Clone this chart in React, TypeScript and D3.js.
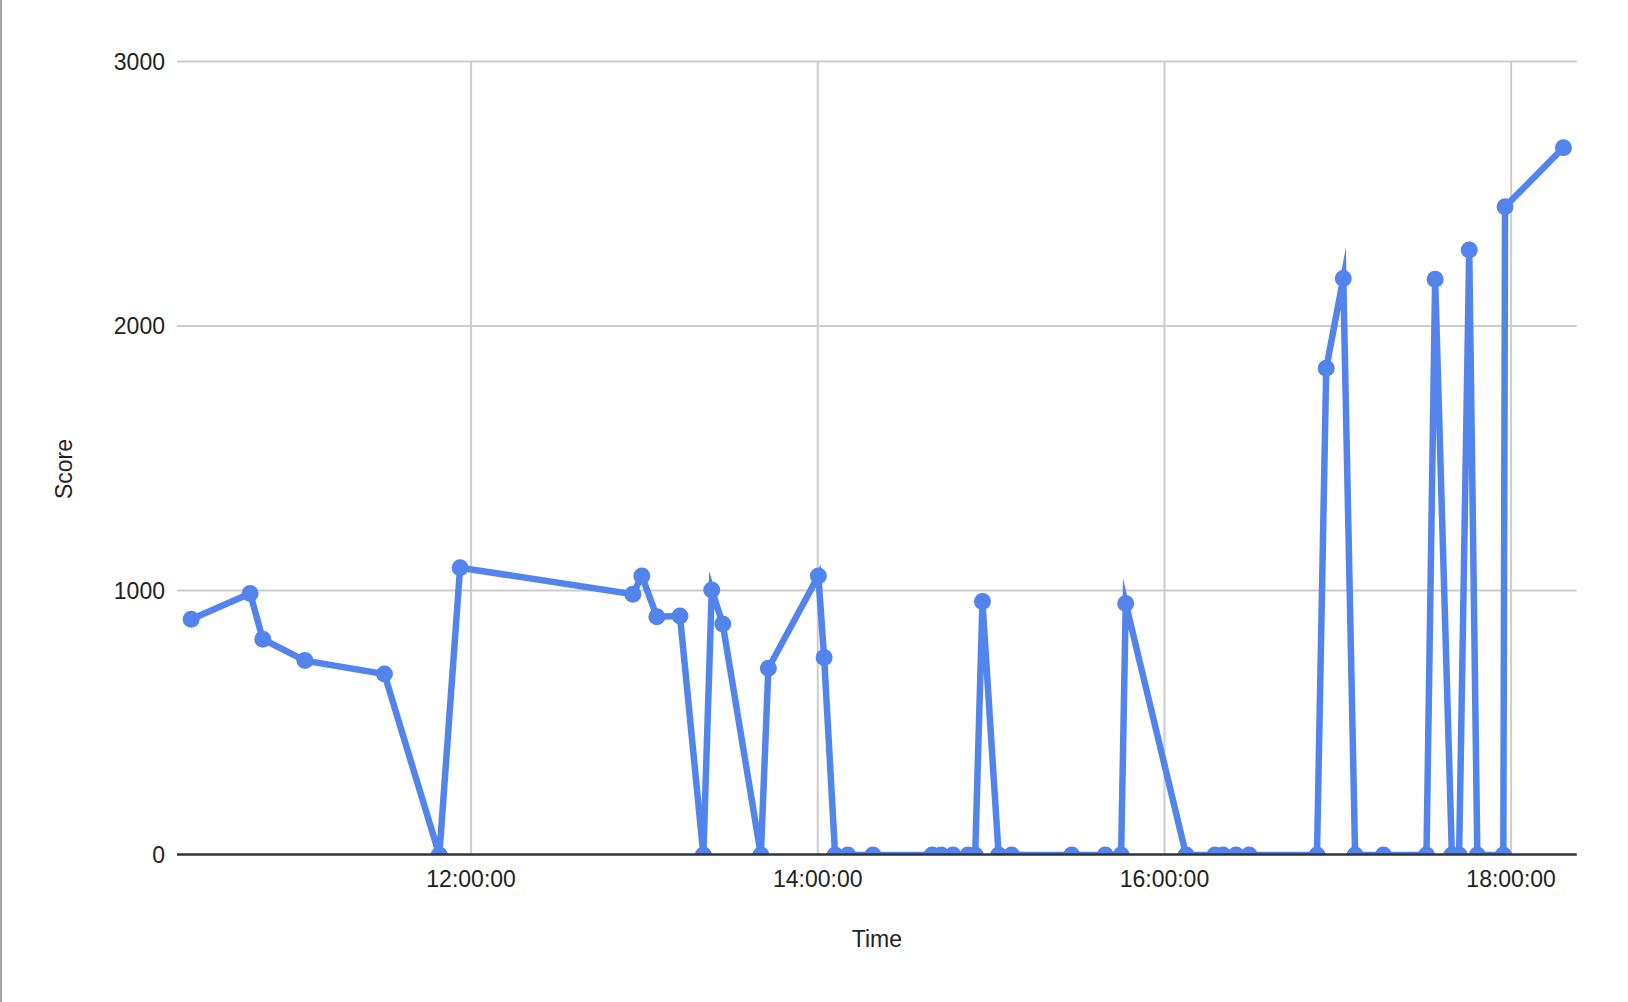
import React from "react";
import * as d3 from "d3";

const times: string[] = [
  "10:23:06", "10:43:30", "10:47:54", "11:02:30", "11:30:00", "11:49:00", "11:56:12",
  "12:56:00", "12:59:06", "13:04:18", "13:12:18", "13:20:24", "13:23:18", "13:27:06",
  "13:40:18", "13:42:54", "14:00:12", "14:02:12", "14:06:00", "14:10:24", "14:19:06",
  "14:39:36", "14:42:42", "14:46:48", "14:52:00", "14:54:30", "14:57:00", "15:02:36",
  "15:07:06", "15:27:54", "15:39:30", "15:45:00", "15:46:36", "16:07:30", "16:17:30",
  "16:20:18", "16:24:48", "16:29:18", "16:52:48", "16:56:00", "17:01:54", "17:06:00",
  "17:15:48", "17:30:42", "17:33:42", "17:39:30", "17:42:00", "17:45:30", "17:48:18",
  "17:57:18", "17:57:54", "18:18:06",
];

const scores: number[] = [
  891, 989, 816, 735, 684, 0, 1086,
  986, 1055, 901, 904, 0, 1002, 873,
  0, 706, 1055, 747, 0, 0, 0,
  0, 0, 0, 0, 0, 958, 0,
  0, 0, 0, 0, 951, 0, 0,
  0, 0, 0, 0, 1840, 2180, 0,
  0, 0, 2177, 0, 0, 2287, 0,
  0, 2451, 2674,
];

const xDomain: string[] = ["10:18:12", "18:22:42"];
const xTickLabels: string[] = ["12:00:00", "14:00:00", "16:00:00", "18:00:00"];
const yTicks: number[] = [0, 1000, 2000, 3000];
const xTitle = "Time";
const yTitle = "Score";

const parse = d3.timeParse("%H:%M:%S");

const W = 1628;
const H = 1002;
const left = 177;
const right = 1576.7;
const top = 61.5;
const bottom = 855;
const font = "'Liberation Sans', Arial, Helvetica, sans-serif";
const blue = "#5384ec";

export default function App() {
  const data = times.map((t, i) => ({ t: parse(t) as Date, v: scores[i] }));
  const x = d3
    .scaleTime()
    .domain(xDomain.map((d) => parse(d) as Date))
    .range([left, right]);
  const y = d3.scaleLinear().domain([0, 3000]).range([bottom, top]);
  const xTicks = xTickLabels.map((d) => parse(d) as Date);
  const fmt = d3.timeFormat("%H:%M:%S");
  const line = d3
    .line<{ t: Date; v: number }>()
    .x((d) => x(d.t))
    .y((d) => y(d.v))
    .curve(d3.curveLinear);

  return (
    <svg
      width={W}
      height={H}
      style={{ position: "absolute", left: 0, top: 0, background: "#fff" }}
    >
      <defs>
        <clipPath id="plotclip">
          <rect x={0} y={0} width={W} height={bottom} />
        </clipPath>
      </defs>
      <rect x={0} y={0} width={W} height={H} fill="#fff" />
      <rect x={0} y={0} width={2} height={H} fill="#a3a3a3" />
      {/* horizontal gridlines */}
      {yTicks
        .filter((v) => v !== 0)
        .map((v) => (
          <line
            key={"hg" + v}
            x1={left}
            x2={right}
            y1={y(v)}
            y2={y(v)}
            stroke="#cccccc"
            strokeWidth={2}
          />
        ))}
      {/* vertical gridlines */}
      {xTicks.map((t, i) => (
        <line
          key={"vg" + i}
          x1={x(t)}
          x2={x(t)}
          y1={top}
          y2={bottom}
          stroke="#cccccc"
          strokeWidth={2}
        />
      ))}
      {/* series */}
      <g clipPath="url(#plotclip)">
        <path
          d={line(data) || ""}
          fill="none"
          stroke={blue}
          strokeWidth={6.5}
          strokeLinejoin="miter"
          strokeMiterlimit={12}
        />
        {data.map((d, i) => (
          <circle key={"pt" + i} cx={x(d.t)} cy={y(d.v)} r={8.5} fill={blue} />
        ))}
      </g>
      {/* baseline */}
      <line
        x1={left}
        x2={right}
        y1={bottom - 0.5}
        y2={bottom - 0.5}
        stroke="#333333"
        strokeWidth={2.5}
      />
      {/* y tick labels */}
      {yTicks.map((v) => (
        <text
          key={"yl" + v}
          x={165}
          y={y(v) + 8.3}
          textAnchor="end"
          fontFamily={font}
          fontSize={23}
          fill="#222"
        >
          {v}
        </text>
      ))}
      {/* x tick labels */}
      {xTicks.map((t, i) => (
        <text
          key={"xl" + i}
          x={x(t)}
          y={886.5}
          textAnchor="middle"
          fontFamily={font}
          fontSize={23}
          fill="#222"
        >
          {fmt(t)}
        </text>
      ))}
      <text
        x={(left + right) / 2}
        y={947}
        textAnchor="middle"
        fontFamily={font}
        fontSize={23}
        fill="#222"
      >
        {xTitle}
      </text>
      <text
        transform={`translate(71.5, 469) rotate(-90)`}
        textAnchor="middle"
        fontFamily={font}
        fontSize={23}
        fill="#222"
      >
        {yTitle}
      </text>
    </svg>
  );
}
